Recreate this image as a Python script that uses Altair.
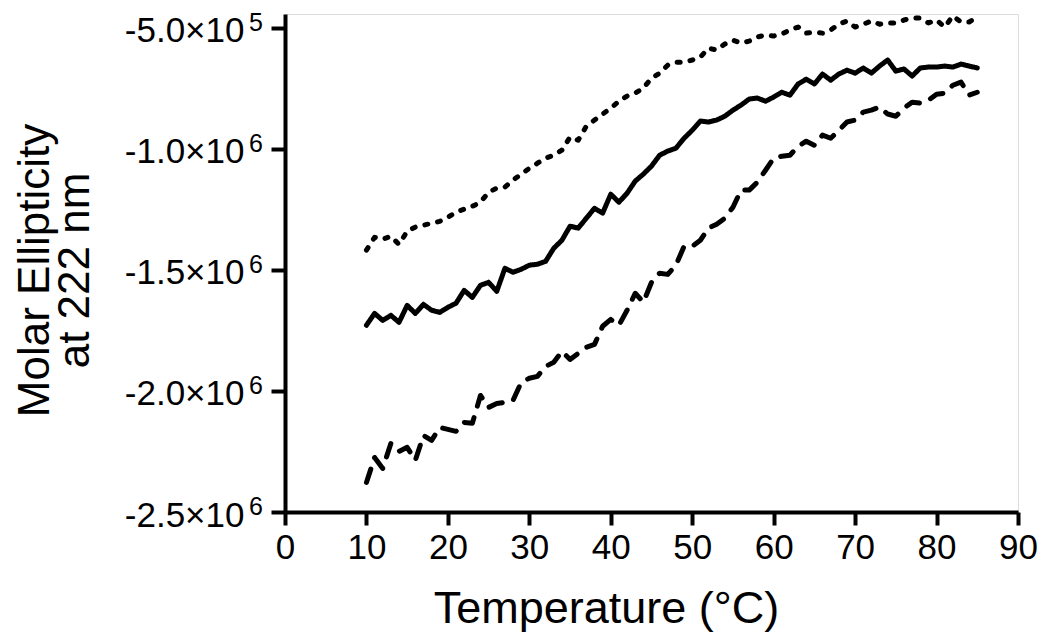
import altair as alt
import pandas as pd

temperature = list(range(10, 86))

dotted_series = [
    -1419e3, -1366e3, -1374e3, -1362e3, -1395e3, -1341e3, -1324e3, -1316e3, -1308e3, -1300e3,
    -1283e3, -1262e3, -1250e3, -1238e3, -1221e3, -1180e3, -1163e3, -1159e3, -1130e3, -1105e3,
    -1081e3, -1060e3, -1039e3, -1027e3, -1006e3, -952e3, -965e3, -907e3, -882e3, -857e3,
    -833e3, -804e3, -783e3, -771e3, -750e3, -709e3, -688e3, -655e3, -643e3, -643e3,
    -634e3, -622e3, -585e3, -593e3, -568e3, -552e3, -564e3, -556e3, -539e3, -531e3,
    -535e3, -527e3, -510e3, -498e3, -523e3, -519e3, -523e3, -510e3, -486e3, -473e3,
    -498e3, -486e3, -473e3, -486e3, -481e3, -481e3, -469e3, -461e3, -461e3, -481e3,
    -469e3, -498e3, -452e3, -477e3, -477e3, -457e3,
]

solid_series = [
    -1729e3, -1680e3, -1709e3, -1688e3, -1717e3, -1647e3, -1680e3, -1643e3, -1667e3, -1676e3,
    -1655e3, -1638e3, -1585e3, -1614e3, -1564e3, -1552e3, -1589e3, -1494e3, -1510e3, -1498e3,
    -1481e3, -1477e3, -1465e3, -1411e3, -1378e3, -1320e3, -1328e3, -1287e3, -1246e3, -1266e3,
    -1188e3, -1221e3, -1184e3, -1134e3, -1105e3, -1072e3, -1027e3, -1010e3, -998e3, -957e3,
    -924e3, -886e3, -890e3, -882e3, -866e3, -841e3, -820e3, -795e3, -791e3, -804e3,
    -787e3, -767e3, -779e3, -733e3, -713e3, -733e3, -692e3, -717e3, -692e3, -676e3,
    -688e3, -667e3, -688e3, -659e3, -634e3, -680e3, -671e3, -700e3, -667e3, -663e3,
    -663e3, -659e3, -663e3, -651e3, -659e3, -667e3,
]

dashed_series = [
    -2378e3, -2275e3, -2320e3, -2217e3, -2250e3, -2233e3, -2287e3, -2184e3, -2204e3, -2151e3,
    -2159e3, -2167e3, -2130e3, -2134e3, -2019e3, -2068e3, -2052e3, -2047e3, -2039e3, -1965e3,
    -1948e3, -1940e3, -1899e3, -1882e3, -1837e3, -1870e3, -1845e3, -1820e3, -1808e3, -1733e3,
    -1705e3, -1729e3, -1667e3, -1597e3, -1634e3, -1552e3, -1514e3, -1519e3, -1481e3, -1403e3,
    -1403e3, -1378e3, -1328e3, -1312e3, -1287e3, -1242e3, -1171e3, -1171e3, -1138e3, -1089e3,
    -1039e3, -1031e3, -1027e3, -990e3, -969e3, -986e3, -944e3, -957e3, -924e3, -890e3,
    -882e3, -849e3, -841e3, -828e3, -857e3, -866e3, -833e3, -808e3, -812e3, -800e3,
    -775e3, -771e3, -738e3, -725e3, -779e3, -767e3,
]

series_names = ["dotted", "solid", "dashed"]
x_ticks = [0, 10, 20, 30, 40, 50, 60, 70, 80, 90]
y_ticks = [-2500000, -2000000, -1500000, -1000000, -500000]
y_tick_mantissa = ["-2.5×10", "-2.0×10", "-1.5×10", "-1.0×10", "-5.0×10"]
y_tick_exponent = ["6", "6", "6", "6", "5"]

rows = []
for name, vals in zip(series_names, [dotted_series, solid_series, dashed_series]):
    for t, v in zip(temperature, vals):
        rows.append({"T": t, "E": v, "series": name})
df = pd.DataFrame(rows)

exp_df = pd.DataFrame({"E": y_ticks, "exp": y_tick_exponent})

label_expr = " : ".join(
    [f"datum.value == {v} ? '{s}'" for v, s in zip(y_ticks, y_tick_mantissa)]
) + " : ''"

FONT = "Liberation Sans, Arial, sans-serif"

y_scale = alt.Scale(domain=[-2500000, -444000], nice=False, zero=False)

lines = alt.Chart(df).mark_line(
    color="black", strokeWidth=5, strokeCap="round", strokeJoin="round", clip=False
).encode(
    x=alt.X(
        "T:Q",
        scale=alt.Scale(domain=[0, 90], nice=False, zero=False),
        axis=alt.Axis(
            values=x_ticks, title="Temperature (°C)", grid=False, labelFlush=False,
            domainColor="black", domainWidth=4, tickColor="black", tickWidth=4, tickSize=13,
            labelFont=FONT, labelFontSize=35, labelColor="black", labelPadding=5,
            titleFont=FONT, titleFontSize=45, titleFontWeight="normal", titleColor="black",
            titleX=321, titleY=96, titleBaseline="middle", titleAlign="center",
        ),
    ),
    y=alt.Y(
        "E:Q",
        scale=y_scale,
        axis=alt.Axis(
            values=y_ticks, labelExpr=label_expr, grid=False, labelFlush=False,
            title=["Molar Ellipticity", "at 222 nm"],
            domainColor="black", domainWidth=4, tickColor="black", tickWidth=4, tickSize=14,
            labelFont=FONT, labelFontSize=35, labelColor="black", labelPadding=27,
            labelOffset=3,
            titleFont=FONT, titleFontSize=44, titleFontWeight="normal", titleColor="black",
            titleAngle=-90, titleX=-250, titleY=256, titleBaseline="middle",
            titleAlign="center", titleLineHeight=40,
        ),
    ),
    strokeDash=alt.StrokeDash(
        "series:N",
        scale=alt.Scale(domain=series_names, range=[[3, 10], [1, 0], [14, 12]]),
        legend=None,
    ),
    detail="series:N",
)

exponents = alt.Chart(exp_df).mark_text(
    font=FONT, fontSize=25, color="black", align="left", baseline="middle",
    dy=-5, clip=False,
).encode(
    x=alt.value(-36),
    y=alt.Y("E:Q", scale=y_scale),
    text="exp:N",
)

chart = alt.layer(lines, exponents).properties(
    width=733,
    height=498,
    autosize=alt.AutoSizeParams(type="none"),
    padding={"left": 277, "top": 6, "right": 20, "bottom": 123},
).configure_view(stroke=None).configure(background="white")

chart.save("out.html", embed_options={"renderer": "svg", "actions": False})
